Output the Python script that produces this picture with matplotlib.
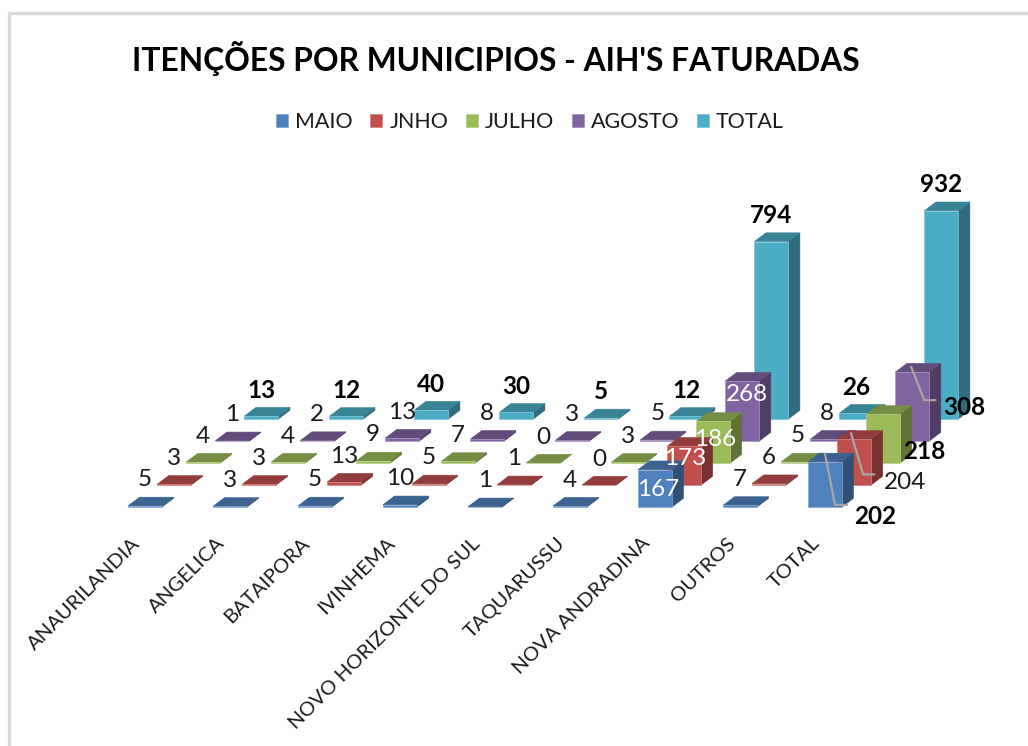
import matplotlib
matplotlib.use("Agg")
import matplotlib.pyplot as plt
from matplotlib.patches import Patch, Polygon, Rectangle
from matplotlib.colors import to_rgb

categories = ["ANAURILANDIA", "ANGELICA", "BATAIPORA", "IVINHEMA",
              "NOVO HORIZONTE DO SUL", "TAQUARUSSU", "NOVA ANDRADINA", "OUTROS", "TOTAL"]
series_names = ["MAIO", "JNHO", "JULHO", "AGOSTO", "TOTAL"]
maio = [5, 3, 5, 10, 1, 4, 167, 7, 202]
jnho = [3, 3, 13, 5, 1, 0, 173, 6, 204]
julho = [4, 4, 9, 7, 0, 3, 186, 5, 218]
agosto = [1, 2, 13, 8, 3, 5, 268, 8, 308]
total = [13, 12, 40, 30, 5, 12, 794, 26, 932]
colors = ["#4F81BD", "#C0504D", "#9BBB59", "#8064A2", "#4BACC6"]
values = [maio, jnho, julho, agosto, total]

plt.rcParams["font.family"] = ["Lato", "DejaVu Sans"]
W, H = 1028, 746
fig = plt.figure(figsize=(W / 100, H / 100), dpi=100, facecolor="white")

# chart frame, only its top and left sides fall inside the picture
fig.add_artist(Rectangle((8.5 / W, -0.1), 1.2, 1.1 - 12.5 / H, transform=fig.transFigure,
                         fill=False, ec="#d9d9d9", lw=2.4))

# scales of the oblique view, in pixels
CAT_PX, VAL_PX = 85.0, 0.2235
X0, Y0 = 128.0, 507.0
AX_L, AX_R, AX_T, AX_B = 20, 1020, 165, 522
ax = fig.add_axes([AX_L / W, 1 - AX_B / H, (AX_R - AX_L) / W, (AX_B - AX_T) / H])
ax.set_xlim((AX_L - X0) / CAT_PX, (AX_R - X0) / CAT_PX)
ax.set_ylim((Y0 - AX_B) / VAL_PX, (Y0 - AX_T) / VAL_PX)
ax.patch.set_alpha(0)
for sp in ax.spines.values():
    sp.set_visible(False)

BAR_W = 34 / CAT_PX
DEPTH_X, DEPTH_V = 11.5 / CAT_PX, 8.7 / VAL_PX
STEP_X, STEP_V = 29.1 / CAT_PX, 22.0 / VAL_PX


def shade(col, f):
    return tuple(c * f for c in to_rgb(col))


def light(col, f=0.3):
    return tuple(c + (1 - c) * f for c in to_rgb(col))


def draw_bar(c, s, v, col):
    x, y = c + s * STEP_X, s * STEP_V
    front = [(x, y), (x + BAR_W, y), (x + BAR_W, y + v), (x, y + v)]
    top = [(x, y + v), (x + BAR_W, y + v), (x + BAR_W + DEPTH_X, y + v + DEPTH_V), (x + DEPTH_X, y + v + DEPTH_V)]
    side = [(x + BAR_W, y), (x + BAR_W + DEPTH_X, y + DEPTH_V),
            (x + BAR_W + DEPTH_X, y + v + DEPTH_V), (x + BAR_W, y + v)]
    ax.add_patch(Polygon(side, fc=shade(col, 0.62), ec=shade(col, 0.62), lw=0.4, clip_on=False))
    ax.add_patch(Polygon(top, fc=shade(col, 0.76), ec=shade(col, 0.76), lw=0.4, clip_on=False))
    ax.add_patch(Polygon(front, fc=col, ec=light(col), lw=0.5, clip_on=False))


for s in range(len(values) - 1, -1, -1):
    for c in range(len(categories)):
        draw_bar(c, s, values[s][c], colors[s])

# category labels
ax.set_yticks([])
ax.set_xticks([c + 0.035 for c in range(len(categories))])
ax.set_xticklabels(categories, rotation=45, ha="right", va="top", rotation_mode="anchor",
                   fontsize=14.5, color="#1a1a1a")
ax.tick_params(axis="x", length=0, pad=9)

# data labels: (series, category) -> (dx, dy from the bar's top-left corner in pixels, colour)
DEFAULT_OFFSET = (17, 26)
special = {
    (0, 6): (20, -20, "white"),
    (1, 6): (18, -12, "white"),
    (2, 6): (19, -18, "white"),
    (3, 6): (22, -13, "white"),
    (0, 8): (67, -55, "#000000"),
    (1, 8): (68, -43, "#1a1a1a"),
    (2, 8): (58, -37, "#000000"),
    (3, 8): (69, -35, "#000000"),
}
for s in range(len(values)):
    for c in range(len(categories)):
        dx, dy, col = special.get((s, c), (*DEFAULT_OFFSET, None))
        bold = s == 4 or (c == 8 and s in (0, 2, 3))
        if col is None:
            col = "#000000" if bold else "#1a1a1a"
        ax.annotate(str(values[s][c]), (c + s * STEP_X, s * STEP_V + values[s][c]),
                    xytext=(dx, dy), textcoords="offset pixels", ha="center", va="center",
                    fontsize=17.5, fontweight="bold" if bold else "normal", color=col,
                    annotation_clip=False, zorder=6)

# leader lines, pixel offsets from the same corner
leaders = {
    0: [(17, 8), (27, -43), (39, -43)],
    1: [(14, 6), (26, -35), (37, -35)],
    3: [(16, 5), (29, -28), (40, -28)],
}
for s, pts in leaders.items():
    px = X0 + (8 + s * STEP_X) * CAT_PX
    py = Y0 - (s * STEP_V + values[s][8]) * VAL_PX
    xs = [(px + a - X0) / CAT_PX for a, b in pts]
    ys = [(Y0 - (py - b)) / VAL_PX for a, b in pts]
    ax.plot(xs, ys, color="#a6a6a6", lw=1.6, clip_on=False, zorder=5)

# title and legend
fig.text(496 / W, 1 - 59 / H, "ITENÇÕES POR MUNICIPIOS - AIH'S FATURADAS", ha="center", va="center",
         fontsize=22.9, fontweight="bold", color="black")
handles = [Patch(fc=col, ec=light(col, 0.2), lw=0.4, label=n) for col, n in zip(colors, series_names)]
fig.legend(handles=handles, loc="center", bbox_to_anchor=(530 / W, 1 - 122 / H), ncol=5, frameon=False,
           fontsize=15.4, handlelength=0.56, handleheight=0.56, handletextpad=0.34,
           columnspacing=0.81, labelcolor="#1a1a1a", borderpad=0, borderaxespad=0)

fig.savefig("out.png", dpi=100)
